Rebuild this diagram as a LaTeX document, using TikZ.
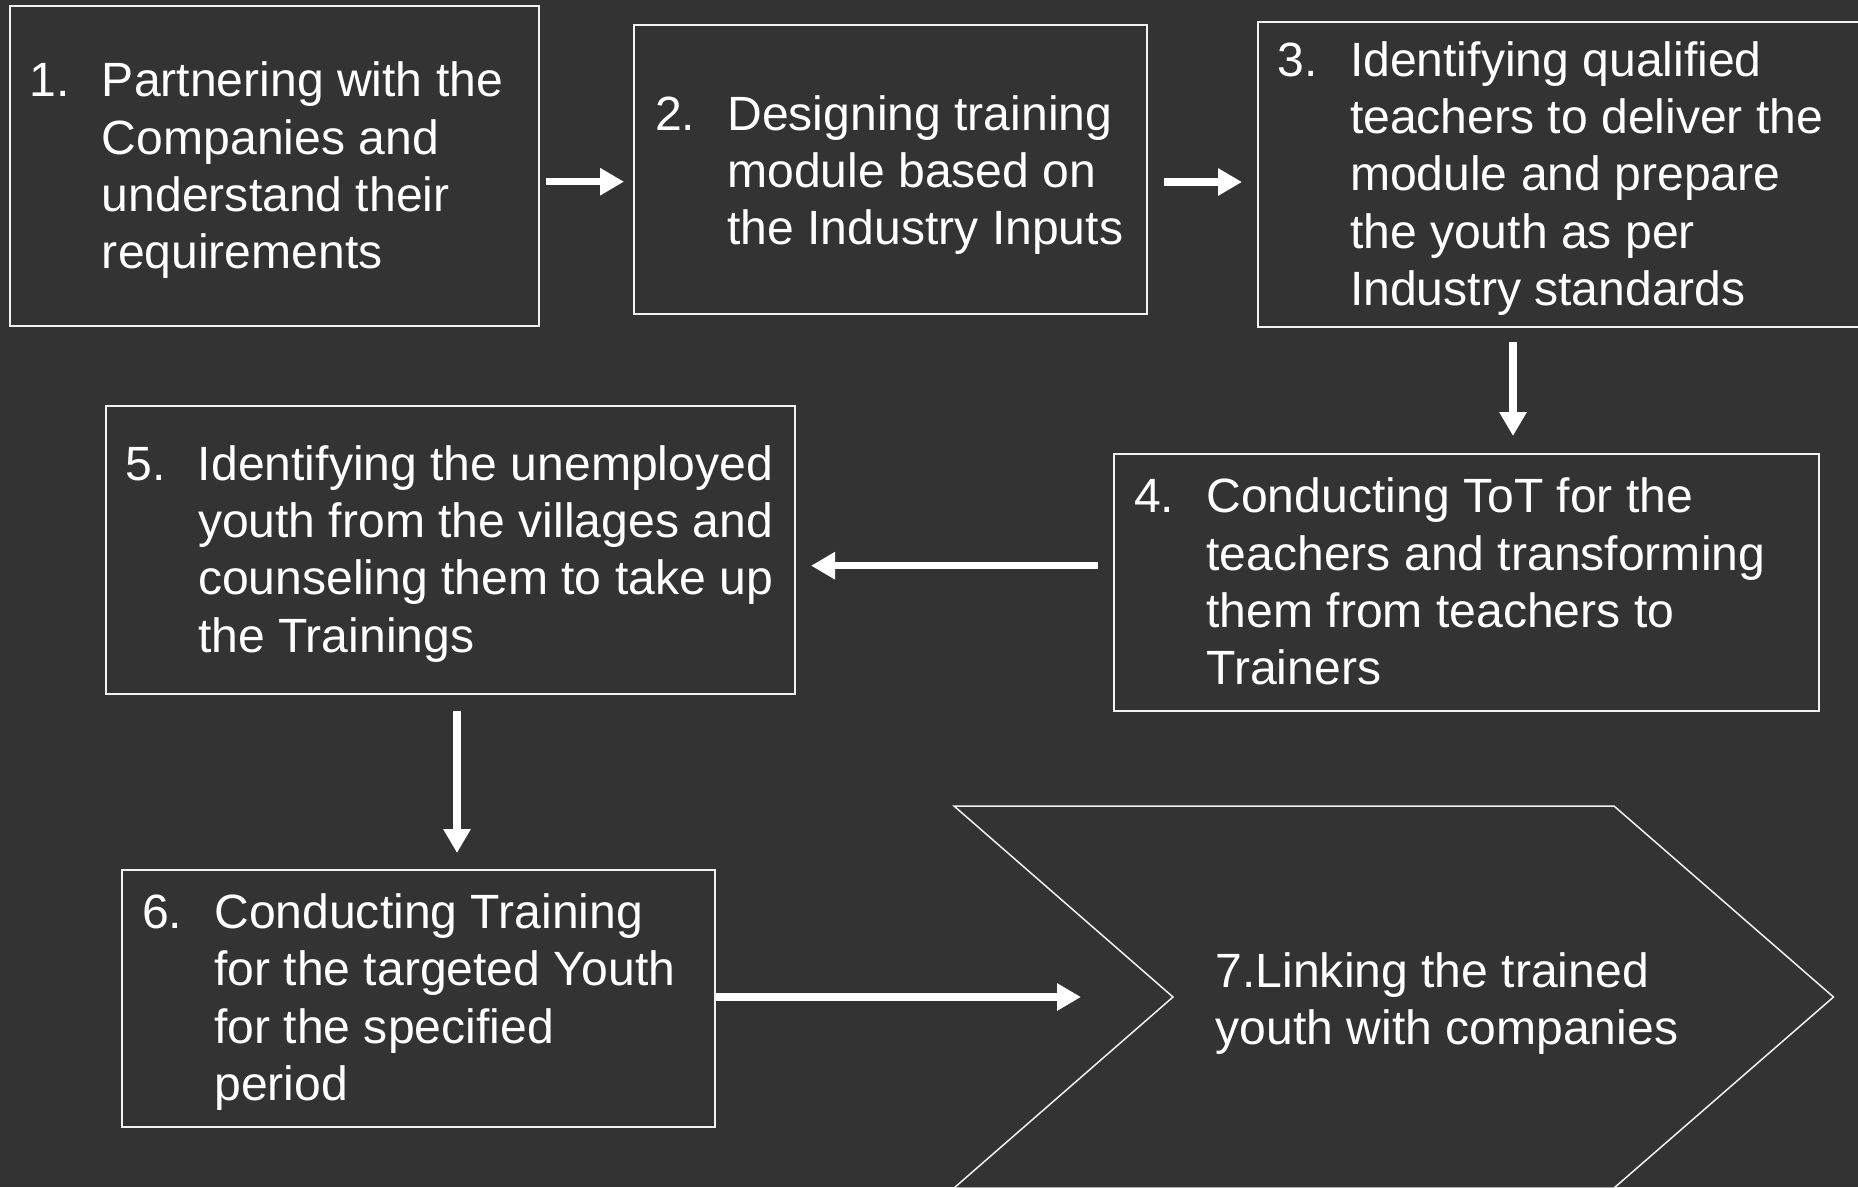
\documentclass[tikz,border=0pt]{standalone}
\usepackage{fontspec}
\setmainfont{Liberation Sans}
\usetikzlibrary{arrows.meta}
\definecolor{bgcol}{HTML}{333333}
\definecolor{edgecol}{HTML}{F2F2F2}
\tikzset{
  box/.style={draw=edgecol, line width=2pt, fill=bgcol, rectangle, inner sep=0pt, anchor=north west},
  steptxt/.style={text=white, inner sep=0pt, anchor=base west, font=\fontsize{48.1}{57.4}\selectfont},
  flow/.style={draw=white, line width=7.5pt, -{Triangle[width=26pt,length=24pt]}},
  chevron/.style={draw=edgecol, line width=1.5pt, fill=bgcol, line join=miter},
}
\begin{document}
\begin{tikzpicture}[x=1pt,y=-1pt]
\useasboundingbox (0,0) rectangle (1858,1187);
\fill[bgcol] (0,0) rectangle (1858,1187);
\clip (0,0) rectangle (1858,1187);

% step boxes
\node[box, minimum width=528.5pt, minimum height=320pt] (b1) at (9,5) {};
\node[box, minimum width=513pt,   minimum height=289pt] (b2) at (633,24) {};
\node[box, minimum width=640pt,   minimum height=305pt] (b3) at (1257,21) {};
\node[box, minimum width=705pt,   minimum height=256.5pt] (b4) at (1113,453) {};
\node[box, minimum width=689pt,   minimum height=288pt] (b5) at (105,405) {};
\node[box, minimum width=592.5pt, minimum height=256.5pt] (b6) at (121,869) {};

% final chevron
\draw[chevron] (954,806) -- (1614,806) -- (1833.5,997) -- (1614,1188) -- (954,1188) -- (1173,997) -- cycle;
\coordinate (c7in) at (1081,997);

% step texts
\node[steptxt] (t1) at (29.5,96.7) {\begin{tabular}[t]{@{}p{72.3pt}@{}l@{}}
1. & Partnering with the\\ & Companies and\\ & understand their\\ & requirements\end{tabular}};
\node[steptxt] (t2) at (654.9,130) {\begin{tabular}[t]{@{}p{72.3pt}@{}l@{}}
2. & Designing training\\ & module based on\\ & the Industry Inputs\end{tabular}};
\node[steptxt] (t3) at (1277.5,76) {\begin{tabular}[t]{@{}p{72.3pt}@{}l@{}}
3. & Identifying qualified\\ & teachers to deliver the\\ & module and prepare\\ & the youth as per\\ & Industry standards\end{tabular}};
\node[steptxt] (t4) at (1134,512.7) {\begin{tabular}[t]{@{}p{72.3pt}@{}l@{}}
4. & Conducting ToT for the\\ & teachers and transforming\\ & them from teachers to\\ & Trainers\end{tabular}};
\node[steptxt] (t5) at (125.5,480) {\begin{tabular}[t]{@{}p{72.3pt}@{}l@{}}
5. & Identifying the unemployed\\ & youth from the villages and\\ & counseling them to take up\\ & the Trainings\end{tabular}};
\node[steptxt] (t6) at (141.8,928.3) {\begin{tabular}[t]{@{}p{72.3pt}@{}l@{}}
6. & Conducting Training\\ & for the targeted Youth\\ & for the specified\\ & period\end{tabular}};
\node[steptxt] (t7) at (1215.5,987) {\begin{tabular}[t]{@{}l@{}}
7.Linking the trained\\ youth with companies\end{tabular}};

% connectors
\coordinate (a12) at (0,181.7);
\coordinate (a23) at (0,182);
\coordinate (a34) at (1513,0);
\coordinate (a45) at (0,565.7);
\coordinate (a56) at (457,0);
\draw[flow, shorten <=6.5pt, shorten >=9pt] (b1.east |- a12) -- (b2.west |- a12);
\draw[flow, shorten <=16pt, shorten >=15pt] (b2.east |- a23) -- (b3.west |- a23);
\draw[flow, shorten <=14pt, shorten >=17pt] (b3.south -| a34) -- (b4.north -| a34);
\draw[flow, shorten <=15pt, shorten >=15pt] (b4.west |- a45) -- (b5.east |- a45);
\draw[flow, shorten <=16pt, shorten >=16pt] (b5.south -| a56) -- (b6.north -| a56);
\draw[flow] (b6.east |- c7in) -- (c7in);
\end{tikzpicture}
\end{document}
